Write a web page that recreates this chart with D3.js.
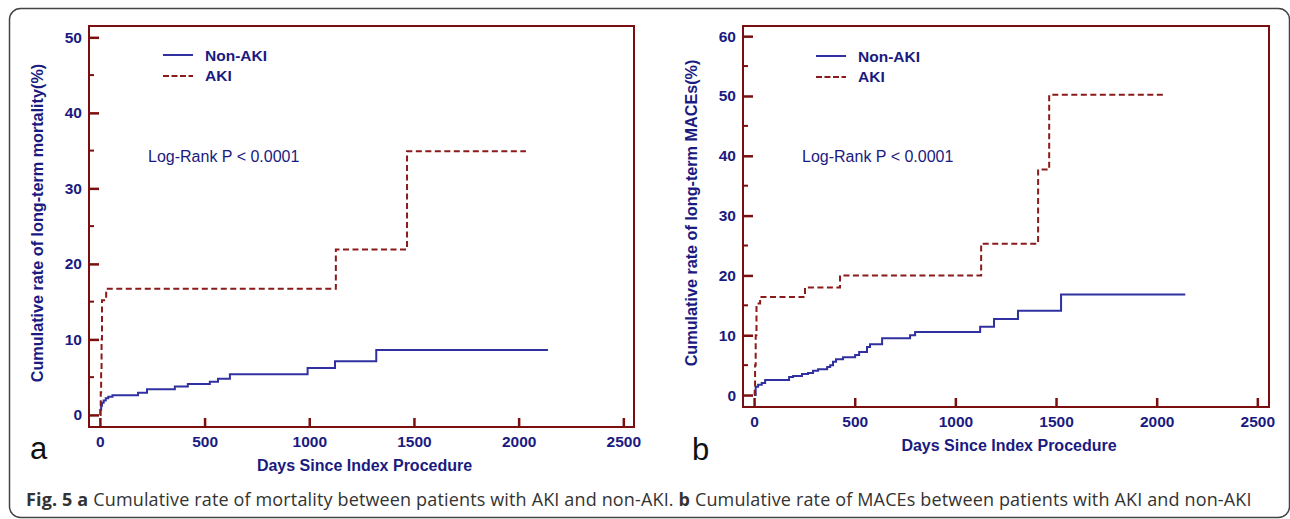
<!DOCTYPE html>
<html>
<head>
<meta charset="utf-8">
<script src="https://cdn.jsdelivr.net/npm/d3@7"></script>
<style>
  body { margin: 0; background: #fff; }
  svg { display: block; }
</style>
</head>
<body>
<div id="chart"></div>
<script>
// values: [day, cumulative rate %]
const mortalityNonAKI = [[0,0],[3,0.7],[6,1.2],[10,1.6],[18,1.9],[28,2.2],[40,2.4],[60,2.6],
  [182,2.95],[225,3.4],[358,3.75],[420,4.1],[525,4.4],[564,4.8],[621,5.4],[992,6.2],
  [1123,7.1],[1320,8.6],[2140,8.6]];
const mortalityAKI = [[0,0],[2,1],[4,3],[6,6],[8,10],[10,15.2],[30,16.7],[1127,21.9],
  [1467,34.9],[2035,34.9]];
const macesNonAKI = [[0,0],[8,1.4],[20,1.7],[38,2.0],[55,2.5],[174,3.0],[194,3.2],[238,3.5],
  [268,3.7],[293,4.05],[318,4.3],[363,4.7],[378,5.0],[392,5.55],[407,6.0],[442,6.3],
  [502,6.7],[522,7.2],[561,8.05],[576,8.5],[636,9.5],[775,10.0],[800,10.55],[1123,11.4],
  [1192,12.7],[1311,14.1],[1525,16.8],[2142,16.8]];
const macesAKI = [[0,0],[3,1],[5,5],[8,10],[12,15.3],[30,16.4],[253,18.0],[427,20.0],
  [1128,25.3],[1411,37.7],[1466,50.2],[2032,50.2]];

const xTicks = [0, 500, 1000, 1500, 2000, 2500];
const mortalityTicks = [0, 10, 20, 30, 40, 50];
const macesTicks = [0, 10, 20, 30, 40, 50, 60];
const legendLabels = ["Non-AKI", "AKI"];
const pText = "Log-Rank P < 0.0001";

const frameColor = "#7b0f0f";
const blue = "#3030a0";
const navy = "#1a1a80";
const red = "#8b1a1a";
const font = "Liberation Sans, Arial, sans-serif";

const svg = d3.select("#chart").append("svg")
  .attr("width", 1290).attr("height", 519);

// outer card border
svg.append("rect")
  .attr("x", 9.5).attr("y", 8.5).attr("width", 1280).attr("height", 509)
  .attr("rx", 11).attr("fill", "none").attr("stroke", "#444").attr("stroke-width", 1.5);

function drawPanel(p) {
  const x = d3.scaleLinear().domain(p.xDomain).range([p.left, p.right]);
  const y = d3.scaleLinear().domain(p.yDomain).range([p.bottom, p.top]);
  const g = svg.append("g");

  // x axis, ticks pointing inward
  const xa = g.append("g")
    .attr("transform", `translate(0,${p.bottom})`)
    .call(d3.axisBottom(x).tickValues(xTicks).tickFormat(d3.format("d"))
      .tickSizeInner(-9).tickSizeOuter(0).tickPadding(9));
  xa.select(".domain").remove();

  // y axis major ticks
  const ya = g.append("g")
    .attr("transform", `translate(${p.left},0)`)
    .call(d3.axisLeft(y).tickValues(p.yTicks).tickFormat(d3.format("d"))
      .tickSizeInner(-10).tickSizeOuter(0).tickPadding(7));
  ya.select(".domain").remove();

  // minor ticks
  const minor = p.yTicks.slice(0, -1).map(v => v + 5);
  g.append("g").selectAll("line").data(minor).join("line")
    .attr("x1", p.left).attr("x2", p.left + 5)
    .attr("y1", d => y(d)).attr("y2", d => y(d))
    .attr("stroke", frameColor).attr("stroke-width", 2);

  [xa, ya].forEach(a => {
    a.selectAll(".tick line").attr("stroke", frameColor).attr("stroke-width", 2.5);
    a.selectAll(".tick text")
      .attr("fill", navy).attr("font-family", font)
      .attr("font-size", 15.5).attr("font-weight", "bold");
  });

  // frame
  g.append("rect")
    .attr("x", p.left).attr("y", p.top)
    .attr("width", p.right - p.left).attr("height", p.bottom - p.top)
    .attr("fill", "none").attr("stroke", frameColor).attr("stroke-width", 2);

  const line = d3.line().x(d => x(d[0])).y(d => y(d[1])).curve(d3.curveStepAfter);

  g.append("path").datum(p.nonAKI).attr("d", line)
    .attr("fill", "none").attr("stroke", blue).attr("stroke-width", 2);
  g.append("path").datum(p.aki).attr("d", line)
    .attr("fill", "none").attr("stroke", red).attr("stroke-width", 2)
    .attr("stroke-dasharray", "6,3.5");

  // legend
  const lg = g.append("g").attr("transform", `translate(${p.legendX},${p.legendY})`);
  lg.append("line").attr("x1", 0).attr("x2", 30).attr("y1", 0).attr("y2", 0)
    .attr("stroke", blue).attr("stroke-width", 2);
  lg.append("line").attr("x1", 0).attr("x2", 30).attr("y1", 21).attr("y2", 21)
    .attr("stroke", red).attr("stroke-width", 2).attr("stroke-dasharray", "6,2.5");
  lg.selectAll("text").data(legendLabels).join("text")
    .attr("x", 42).attr("y", (d, i) => 6 + i * 20)
    .attr("fill", navy).attr("font-family", font)
    .attr("font-size", 15.5).attr("font-weight", "bold").text(d => d);

  g.append("text").attr("x", p.pX).attr("y", 162)
    .attr("fill", navy).attr("font-family", font)
    .attr("font-size", 16).text(pText);

  // axis titles
  g.append("text")
    .attr("x", (p.left + p.right) / 2 + p.xTitleShift).attr("y", p.xTitleY)
    .attr("text-anchor", "middle").attr("fill", navy)
    .attr("font-family", font)
    .attr("font-size", 16).attr("font-weight", "bold")
    .text("Days Since Index Procedure");

  g.append("text")
    .attr("transform", `translate(${p.yTitleX},${p.yTitleY}) rotate(-90)`)
    .attr("text-anchor", "middle").attr("fill", navy)
    .attr("font-family", font)
    .attr("font-size", 16.2).attr("font-weight", "bold")
    .text(p.yTitle);

  // panel letter
  g.append("text").attr("x", p.letterX).attr("y", p.letterY)
    .attr("fill", "#111").attr("font-family", font)
    .attr("font-size", 31).text(p.letter);
}

drawPanel({
  left: 89, right: 634, top: 26, bottom: 427,
  xDomain: [-52, 2551], yDomain: [-1.6, 51.5], yTicks: mortalityTicks,
  nonAKI: mortalityNonAKI, aki: mortalityAKI,
  legendX: 163, legendY: 55, pX: 148,
  xTitleY: 471, xTitleShift: 3, yTitleX: 43, yTitleY: 223,
  yTitle: "Cumulative rate of long-term mortality(%)",
  letter: "a", letterX: 30, letterY: 459
});

drawPanel({
  left: 743, right: 1269, top: 26, bottom: 407,
  xDomain: [-55, 2558], yDomain: [-2, 61.7], yTicks: macesTicks,
  nonAKI: macesNonAKI, aki: macesAKI,
  legendX: 816, legendY: 56, pX: 802,
  xTitleY: 451, xTitleShift: 3, yTitleX: 697, yTitleY: 213,
  yTitle: "Cumulative rate of long-term MACEs(%)",
  letter: "b", letterX: 692, letterY: 460
});

// caption
const cap = svg.append("text").attr("x", 26).attr("y", 506)
  .attr("fill", "#333").attr("font-family", "Open Sans, sans-serif")
  .attr("font-size", 18).attr("letter-spacing", 0.15);
cap.append("tspan").attr("font-weight", "bold").text("Fig. 5 a");
cap.append("tspan").text(" Cumulative rate of mortality between patients with AKI and non-AKI. ");
cap.append("tspan").attr("font-weight", "bold").text("b");
cap.append("tspan").text(" Cumulative rate of MACEs between patients with AKI and non-AKI");
</script>
</body>
</html>
